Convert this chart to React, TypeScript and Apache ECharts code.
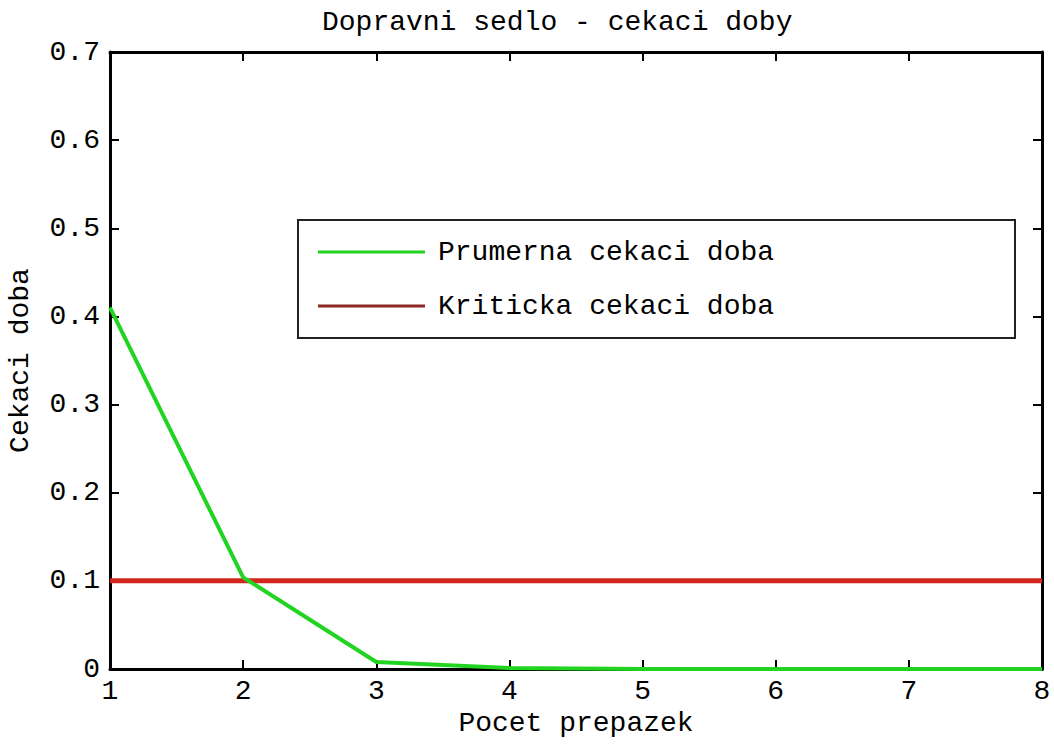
import React, { useEffect, useRef } from "react";
import * as echarts from "echarts";

const xValues = [1, 2, 3, 4, 5, 6, 7, 8];
const prumerna = [0.41, 0.104, 0.008, 0.001, 0.0001, 0.0001, 0.0001, 0.0001];
const kriticka = [0.1, 0.1, 0.1, 0.1, 0.1, 0.1, 0.1, 0.1];
const seriesNames = ["Prumerna cekaci doba", "Kriticka cekaci doba"];
const titleText = "Dopravni sedlo - cekaci doby";
const xName = "Pocet prepazek";
const yName = "Cekaci doba";

const FONT = "'Liberation Mono', 'Courier New', monospace";
const FS = 28;

export default function App() {
  const ref = useRef<HTMLDivElement>(null);
  useEffect(() => {
    if (!ref.current) return;
    const chart = echarts.init(ref.current, undefined, { renderer: "svg" });
    const axisTick = { show: true, inside: true, length: 9, lineStyle: { color: "#000", width: 2 } };
    const axisLine = { show: true, onZero: false, lineStyle: { color: "#000", width: 3 } };
    chart.setOption({
      animation: false,
      backgroundColor: "#fff",
      textStyle: { fontFamily: FONT },
      title: {
        text: titleText,
        left: 322,
        top: 8,
        padding: 0,
        textStyle: { fontFamily: FONT, fontSize: FS, fontWeight: "normal", color: "#000" },
      },
      grid: { left: 110, right: 12, top: 52, bottom: 76, containLabel: false, outerBoundsMode: "none" },
      graphic: [
        {
          type: "rect",
          shape: { x: 298, y: 220, width: 717, height: 118 },
          style: { fill: "#fff", stroke: "#222", lineWidth: 2 },
          z: 10,
        },
      ],
      legend: {
        orient: "vertical",
        left: 318,
        top: 237,
        padding: 0,
        icon: "rect",
        itemWidth: 107,
        itemHeight: 3,
        itemGap: 24,
        z: 20,
        textStyle: { fontFamily: FONT, fontSize: FS, color: "#000", lineHeight: 30, padding: [0, 0, 0, 8] },
        data: [
          { name: seriesNames[0], itemStyle: { color: "#22d422" } },
          { name: seriesNames[1], itemStyle: { color: "#8b2a22" } },
        ],
      },
      xAxis: [
        {
          type: "value",
          min: 1,
          max: 8,
          interval: 1,
          position: "bottom",
          name: xName,
          nameLocation: "middle",
          nameGap: 39,
          nameTextStyle: { fontFamily: FONT, fontSize: FS, color: "#000" },
          axisLine,
          axisTick,
          splitLine: { show: false },
          axisLabel: { color: "#000", fontFamily: FONT, fontSize: FS, margin: 8 },
        },
        {
          type: "value",
          min: 1,
          max: 8,
          interval: 1,
          position: "top",
          axisLine,
          axisTick,
          splitLine: { show: false },
          axisLabel: { show: false },
        },
      ],
      yAxis: [
        {
          type: "value",
          min: 0,
          max: 0.7,
          interval: 0.1,
          position: "left",
          name: yName,
          nameLocation: "middle",
          nameGap: 76,
          nameTextStyle: { fontFamily: FONT, fontSize: FS, color: "#000" },
          axisLine,
          axisTick,
          splitLine: { show: false },
          axisLabel: { color: "#000", fontFamily: FONT, fontSize: FS, margin: 10 },
        },
        {
          type: "value",
          min: 0,
          max: 0.7,
          interval: 0.1,
          position: "right",
          axisLine,
          axisTick,
          splitLine: { show: false },
          axisLabel: { show: false },
        },
      ],
      series: [
        {
          name: seriesNames[0],
          type: "line",
          symbol: "none",
          data: xValues.map((x, i) => [x, prumerna[i]]),
          lineStyle: { color: "#22d422", width: 4 },
          itemStyle: { color: "#22d422" },
          z: 3,
        },
        {
          name: seriesNames[1],
          type: "line",
          symbol: "none",
          data: xValues.map((x, i) => [x, kriticka[i]]),
          lineStyle: { color: "#d2261e", width: 5 },
          itemStyle: { color: "#d2261e" },
          z: 2,
        },
      ],
    });
    return () => chart.dispose();
  }, []);
  return (
    <div
      ref={ref}
      style={{ position: "fixed", left: 0, top: 0, width: 1054, height: 745, background: "#fff" }}
    />
  );
}
